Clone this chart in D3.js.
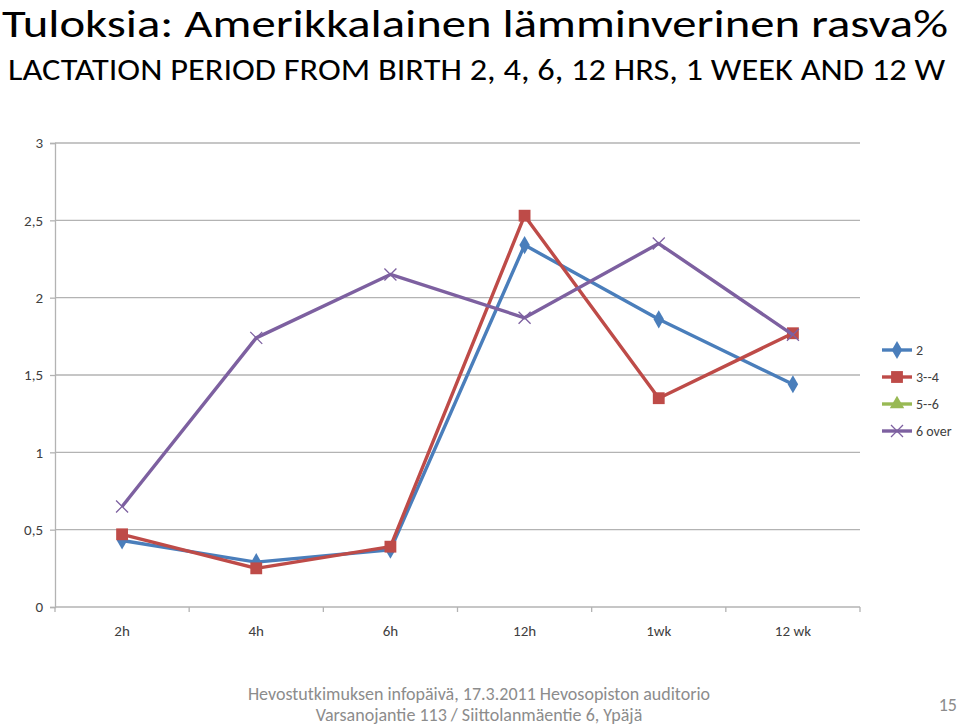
<!DOCTYPE html>
<html>
<head>
    <meta charset="utf-8">
    <title></title>
    <style>
        body { margin: 0; background: #fff; }
        text { font-family: Carlito, Calibri, "Liberation Sans Narrow", "Open Sans", sans-serif; }
    </style>
</head>
<body>
<div id="container"></div>

<script src="https://d3js.org/d3.v7.min.js" type="text/javascript"></script>
<script type="text/javascript">
    const categories = ['2h', '4h', '6h', '12h', '1wk', '12 wk'];
    const seriesNames = ['2', '3--4', '5--6', '6 over'];
    const s2 = [0.43, 0.29, 0.37, 2.34, 1.86, 1.44];
    const s34 = [0.47, 0.25, 0.39, 2.53, 1.35, 1.77];
    const s56 = [];
    const s6over = [0.65, 1.74, 2.15, 1.87, 2.35, 1.76];
    const yTicks = [0, 0.5, 1, 1.5, 2, 2.5, 3];

    const w = 959, h = 726;
    const svg = d3.select('#container').append('svg')
        .attr('width', w).attr('height', h);

    const colors = ['#4a7ebb', '#be4b48', '#98b954', '#7d60a0'];
    const symbols = [d3.symbolDiamond, d3.symbolSquare, d3.symbolTriangle, null];
    const symSize = [95, 140, 90, 0];
    const allSeries = [s2, s34, s56, s6over];

    // title
    svg.append('text').attr('x', 2).attr('y', 37)
        .attr('textLength', 946).attr('lengthAdjust', 'spacingAndGlyphs')
        .style('font-size', '38px').style('fill', '#000')
        .text('Tuloksia: Amerikkalainen lämminverinen rasva%');
    svg.append('text').attr('x', 8).attr('y', 80)
        .attr('textLength', 937).attr('lengthAdjust', 'spacingAndGlyphs')
        .style('font-size', '30px').style('fill', '#000')
        .text('LACTATION PERIOD FROM BIRTH 2, 4, 6, 12 HRS, 1  WEEK AND 12 W');

    const pl = 55, pr = 860, pt = 143, pb = 607;

    const x = d3.scaleBand().domain(categories).range([pl, pr]);
    const y = d3.scaleLinear().domain([0, 3]).range([pb, pt]);

    // gridlines
    svg.append('g').selectAll('line').data(yTicks.filter(d => d > 0)).join('line')
        .attr('x1', pl).attr('x2', pr)
        .attr('y1', d => y(d)).attr('y2', d => y(d))
        .style('stroke', '#b3b3b3').style('stroke-width', 1.3);

    const yAxis = d3.axisLeft(y).tickValues(yTicks).tickSize(5).tickPadding(7)
        .tickFormat(d => String(d).replace('.', ','));
    const gy = svg.append('g').attr('transform', `translate(${pl},0)`).call(yAxis);
    gy.attr('font-size', 15);
    gy.select('.domain').style('stroke', '#b3b3b3').style('stroke-width', 1.3);
    gy.selectAll('.tick line').style('stroke', '#b3b3b3').style('stroke-width', 1.3);
    gy.selectAll('text').style('font-size', '15px').style('fill', '#404040')
        .style('font-family', 'Carlito, Calibri, "Liberation Sans Narrow", "Open Sans", sans-serif');

    // x axis, ticks on the band boundaries
    const gx = svg.append('g').attr('transform', `translate(0,${pb})`);
    gx.append('line').attr('x1', pl).attr('x2', pr)
        .style('stroke', '#b3b3b3').style('stroke-width', 1.3);
    const bounds = categories.map(c => x(c)).concat([x(categories[categories.length - 1]) + x.bandwidth()]);
    gx.selectAll('line.tk').data(bounds).join('line').attr('class', 'tk')
        .attr('x1', d => d).attr('x2', d => d).attr('y1', 0).attr('y2', 5)
        .style('stroke', '#b3b3b3').style('stroke-width', 1.3);
    gx.selectAll('text').data(categories).join('text')
        .attr('x', d => x(d) + x.bandwidth() / 2).attr('y', 29)
        .attr('text-anchor', 'middle')
        .style('font-size', '15px').style('fill', '#404040')
        .text(d => d);

    const line = d3.line()
        .x((d, i) => x(categories[i]) + x.bandwidth() / 2)
        .y(d => y(d));

    function marker(g, k, cx, cy) {
        if (symbols[k]) {
            g.append('path')
                .attr('d', d3.symbol().type(symbols[k]).size(symSize[k])())
                .attr('transform', `translate(${cx},${cy})`)
                .style('fill', colors[k]);
        } else {
            g.append('path').attr('d', 'M-6,-6L6,6M-6,6L6,-6')
                .attr('transform', `translate(${cx},${cy})`)
                .style('stroke', colors[k]).style('stroke-width', 1.3).style('fill', 'none');
        }
    }

    allSeries.forEach((vals, k) => {
        if (!vals.length) return;
        const g = svg.append('g');
        g.append('path').datum(vals).attr('d', line)
            .style('fill', 'none').style('stroke', colors[k]).style('stroke-width', 3.4)
            .style('stroke-linejoin', 'round');
        vals.forEach((v, i) => marker(g, k, x(categories[i]) + x.bandwidth() / 2, y(v)));
    });

    // legend
    const lg = svg.append('g');
    seriesNames.forEach((name, k) => {
        const ly = 350 + k * 27;
        lg.append('line').attr('x1', 882).attr('x2', 912).attr('y1', ly).attr('y2', ly)
            .style('stroke', colors[k]).style('stroke-width', 3.4);
        marker(lg, k, 897, ly);
        lg.append('text').attr('x', 916).attr('y', ly + 5)
            .style('font-size', '14px').style('fill', '#404040').text(name);
    });

    // footer
    svg.append('text').attr('x', 479).attr('y', 700).attr('text-anchor', 'middle')
        .style('font-size', '18px').style('fill', '#8c8c8c')
        .text('Hevostutkimuksen infopäivä, 17.3.2011 Hevosopiston auditorio');
    svg.append('text').attr('x', 479).attr('y', 721).attr('text-anchor', 'middle')
        .style('font-size', '18px').style('fill', '#8c8c8c')
        .text('Varsanojantie 113 / Siittolanmäentie 6, Ypäjä');
    svg.append('text').attr('x', 957).attr('y', 711).attr('text-anchor', 'end')
        .style('font-size', '18px').style('fill', '#8c8c8c')
        .text('15');
</script>

</body>
</html>
